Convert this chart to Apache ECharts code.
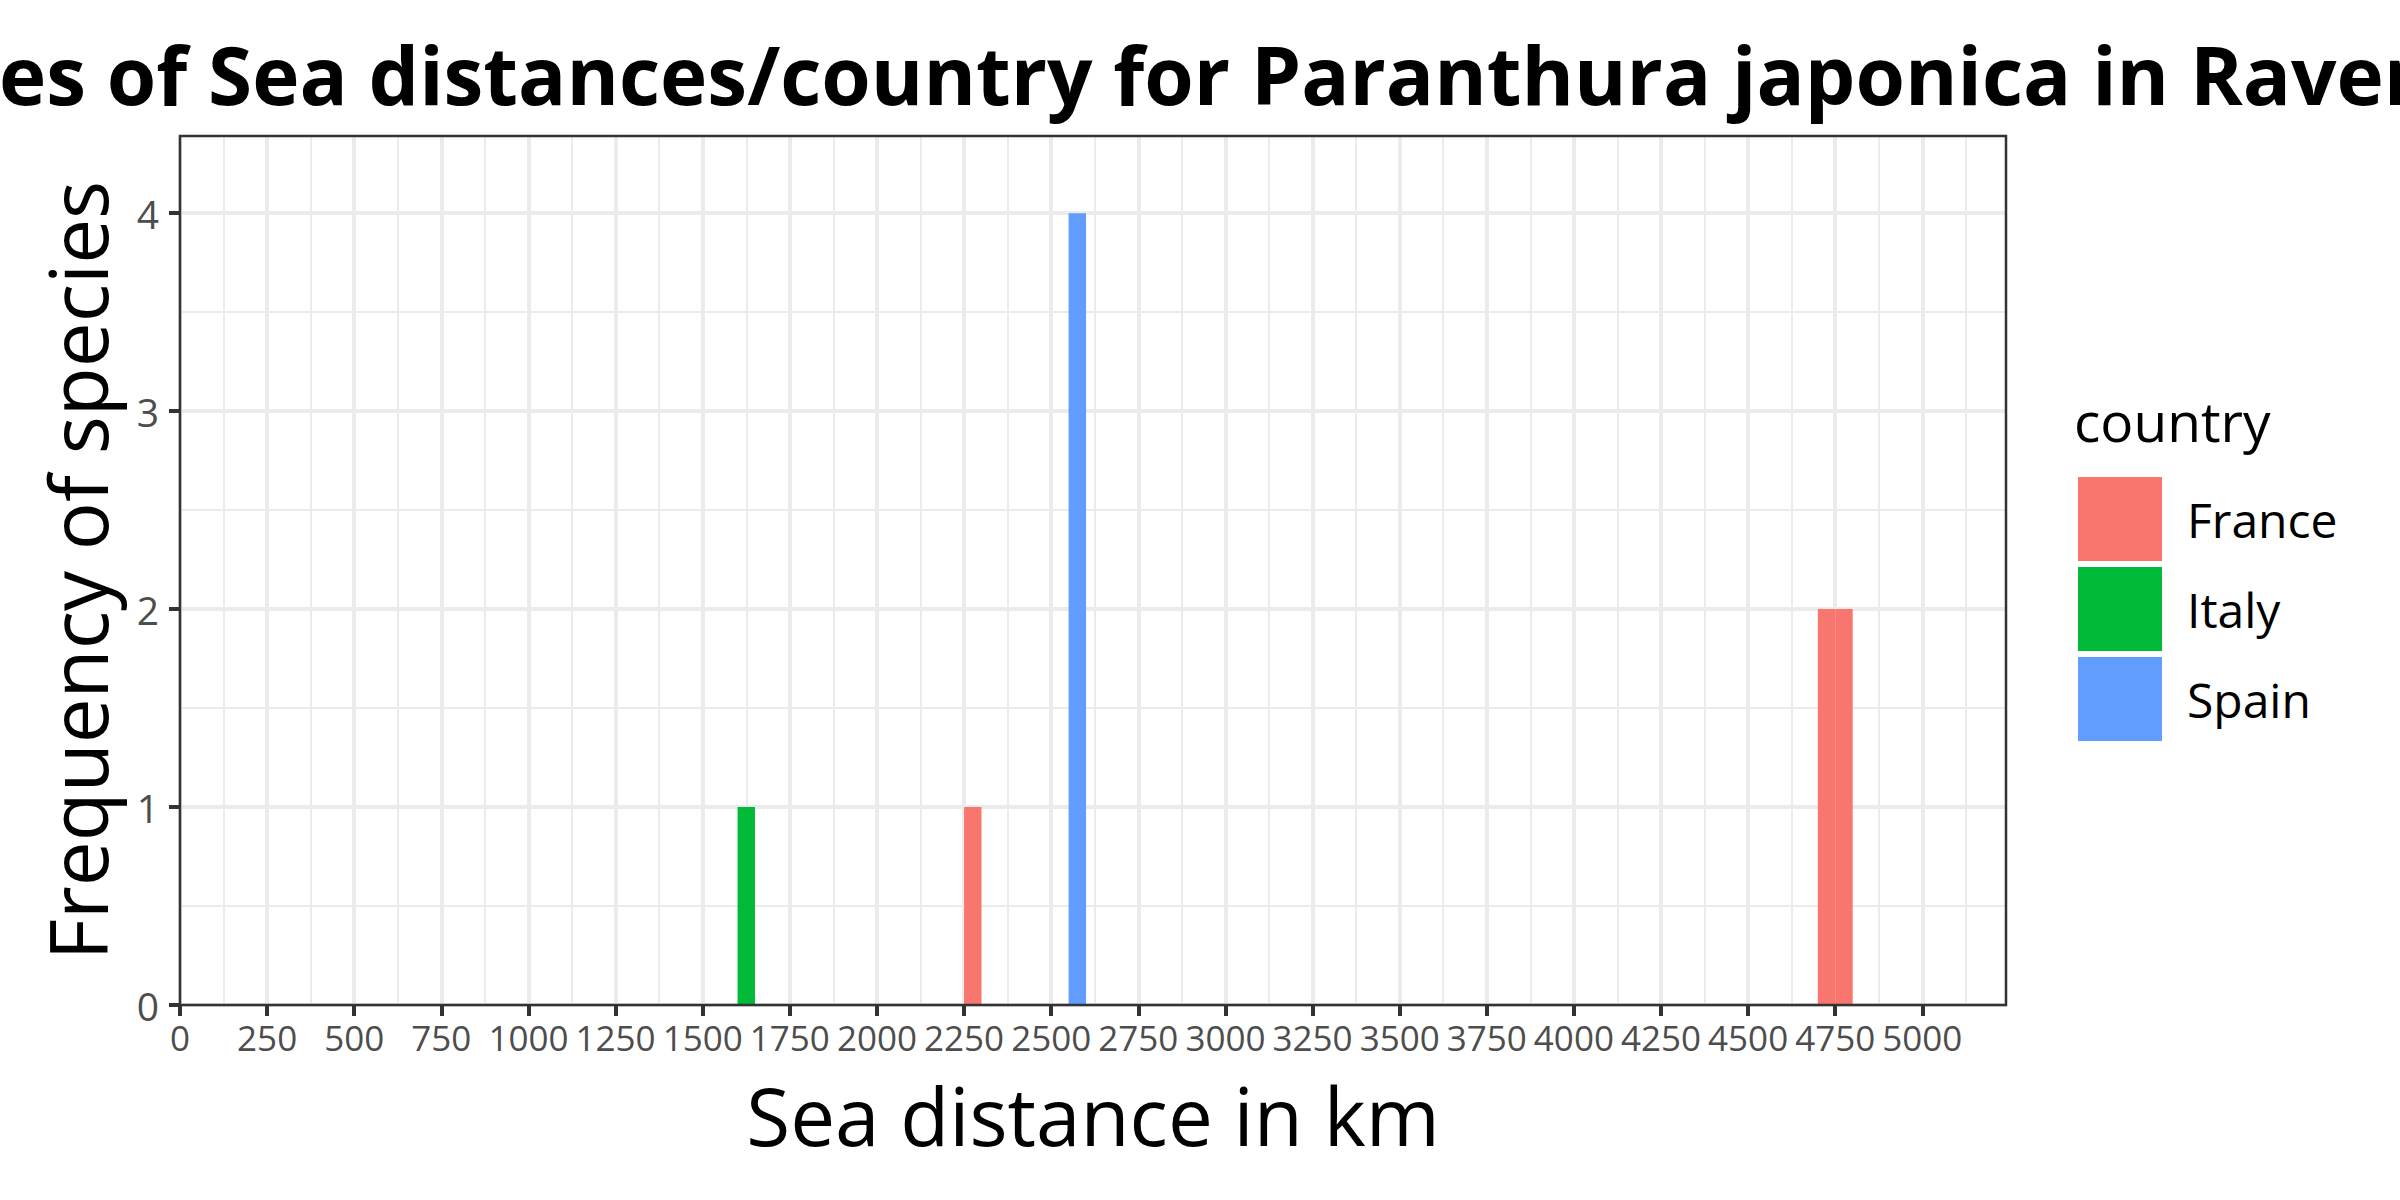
<!DOCTYPE html>
<html>
<head>
<meta charset="utf-8">
<script src="https://cdn.jsdelivr.net/npm/echarts@6/dist/echarts.min.js"></script>
<style>
html, body { margin: 0; padding: 0; background: #ffffff; }
#chart { width: 2400px; height: 1200px; }
</style>
</head>
<body>
<div id="chart"></div>
<script>
// ---------- data ----------
const titleText = 'Frequencies of Sea distances/country for Paranthura japonica in Ravenna';
const titleHiddenPrefix = 'Frequenci';
const xAxisTitle = 'Sea distance in km';
const yAxisTitle = 'Frequency of species';
const legendTitle = 'country';

const countries = ['France', 'Italy', 'Spain'];
const countryColors = ['#F8766D', '#00BA38', '#619CFF'];

const binWidth = 50;
const franceBinStart = [2250, 4700, 4750];
const franceCount = [1, 2, 2];
const italyBinStart = [1600];
const italyCount = [1];
const spainBinStart = [2550];
const spainCount = [4];

const xTicks = [0, 250, 500, 750, 1000, 1250, 1500, 1750, 2000, 2250, 2500, 2750,
                3000, 3250, 3500, 3750, 4000, 4250, 4500, 4750, 5000];
const yTicks = [0, 1, 2, 3, 4];
const xMinorGrid = [125, 375, 625, 875, 1125, 1375, 1625, 1875, 2125, 2375, 2625,
                    2875, 3125, 3375, 3625, 3875, 4125, 4375, 4625, 4875, 5125];
const yMinorGrid = [0.5, 1.5, 2.5, 3.5];
const xMin = 0, xMax = 5240;
const yMin = 0, yMax = 4.39;

// ---------- chart ----------
const FONT = '"Open Sans", sans-serif';

function binData(starts, counts) {
  return starts.map((s, i) => [s, s + binWidth, counts[i]]);
}
const countryBins = [
  binData(franceBinStart, franceCount),
  binData(italyBinStart, italyCount),
  binData(spainBinStart, spainCount)
];

function renderBar(params, api) {
  const p0 = api.coord([api.value(0), 0]);
  const p1 = api.coord([api.value(1), api.value(2)]);
  return {
    type: 'rect',
    shape: { x: p0[0], y: p1[1], width: p1[0] - p0[0], height: p0[1] - p1[1] },
    style: { fill: api.visual('color') }
  };
}

const mctx = document.createElement('canvas').getContext('2d');
mctx.font = 'bold 80px "Open Sans"';
const titleLeft = -1 - mctx.measureText(titleHiddenPrefix).width;

const chart = echarts.init(document.getElementById('chart'), null, { renderer: 'svg', width: 2400, height: 1200 });

const barSeries = countries.map((c, i) => ({
  type: 'custom',
  name: c,
  data: countryBins[i],
  encode: { x: [0, 1], y: 2 },
  itemStyle: { color: countryColors[i] },
  renderItem: renderBar,
  z: 2
}));

const gridLineSeries = {
  type: 'line',
  data: [],
  z: 1,
  silent: true,
  markLine: {
    z: 1,
    silent: true,
    animation: false,
    symbol: ['none', 'none'],
    label: { show: false },
    emphasis: { disabled: true },
    lineStyle: { color: '#EBEBEB', width: 2, type: 'solid' },
    data: xMinorGrid.map(v => ({ xAxis: v })).concat(yMinorGrid.map(v => ({ yAxis: v })))
  }
};

const plainNumber = v => String(v);

chart.setOption({
  animation: false,
  backgroundColor: '#ffffff',
  title: [
    {
      text: titleText,
      left: titleLeft,
      top: 33,
      padding: 0,
      textStyle: { fontFamily: FONT, fontWeight: 'bold', fontSize: 80, color: '#000000' }
    },
    {
      text: legendTitle,
      left: 2074,
      top: 393,
      padding: 0,
      textStyle: { fontFamily: FONT, fontWeight: 'normal', fontSize: 55, color: '#000000' }
    }
  ],
  legend: {
    data: countries,
    orient: 'vertical',
    left: 2078,
    top: 477,
    padding: 0,
    itemWidth: 84,
    itemHeight: 84,
    itemGap: 6,
    icon: 'rect',
    selectedMode: false,
    itemStyle: { borderWidth: 0 },
    formatter: n => '{n|' + n + '}',
    textStyle: {
      fontFamily: FONT, fontSize: 48, color: '#000000',
      rich: { n: { fontFamily: FONT, fontSize: 48, color: '#000000', padding: [0, 0, 0, 20] } }
    }
  },
  grid: {
    left: 180, top: 136, width: 1826, height: 869,
    show: true,
    borderColor: '#333333',
    borderWidth: 2.5,
    backgroundColor: 'transparent',
    z: 10,
    containLabel: false,
    outerBoundsMode: 'none'
  },
  xAxis: {
    type: 'value',
    min: xMin, max: xMax, interval: 250,
    name: xAxisTitle,
    nameLocation: 'middle',
    nameGap: 69,
    nameTextStyle: { fontFamily: FONT, fontSize: 80, color: '#000000' },
    axisLine: { show: false },
    axisTick: { show: true, length: 11, customValues: xTicks, lineStyle: { color: '#333333', width: 4 } },
    axisLabel: {
      show: true, customValues: xTicks, margin: 15,
      showMinLabel: true, showMaxLabel: true, hideOverlap: false,
      formatter: plainNumber,
      fontFamily: FONT, fontSize: 35, color: '#4D4D4D'
    },
    splitLine: { show: true, lineStyle: { color: '#EBEBEB', width: 4 } },
    minorSplitLine: { show: false }
  },
  yAxis: {
    type: 'value',
    min: yMin, max: yMax, interval: 1,
    name: yAxisTitle,
    nameLocation: 'middle',
    nameGap: 64,
    nameTextStyle: { fontFamily: FONT, fontSize: 80, color: '#000000' },
    axisLine: { show: false },
    axisTick: { show: true, length: 11, customValues: yTicks, lineStyle: { color: '#333333', width: 4 } },
    axisLabel: {
      show: true, customValues: yTicks, margin: 21,
      showMinLabel: true, showMaxLabel: true, hideOverlap: false,
      formatter: plainNumber,
      fontFamily: FONT, fontSize: 39, color: '#4D4D4D'
    },
    splitLine: { show: true, lineStyle: { color: '#EBEBEB', width: 4 } },
    minorSplitLine: { show: false }
  },
  series: barSeries.concat([gridLineSeries])
});
</script>
</body>
</html>
